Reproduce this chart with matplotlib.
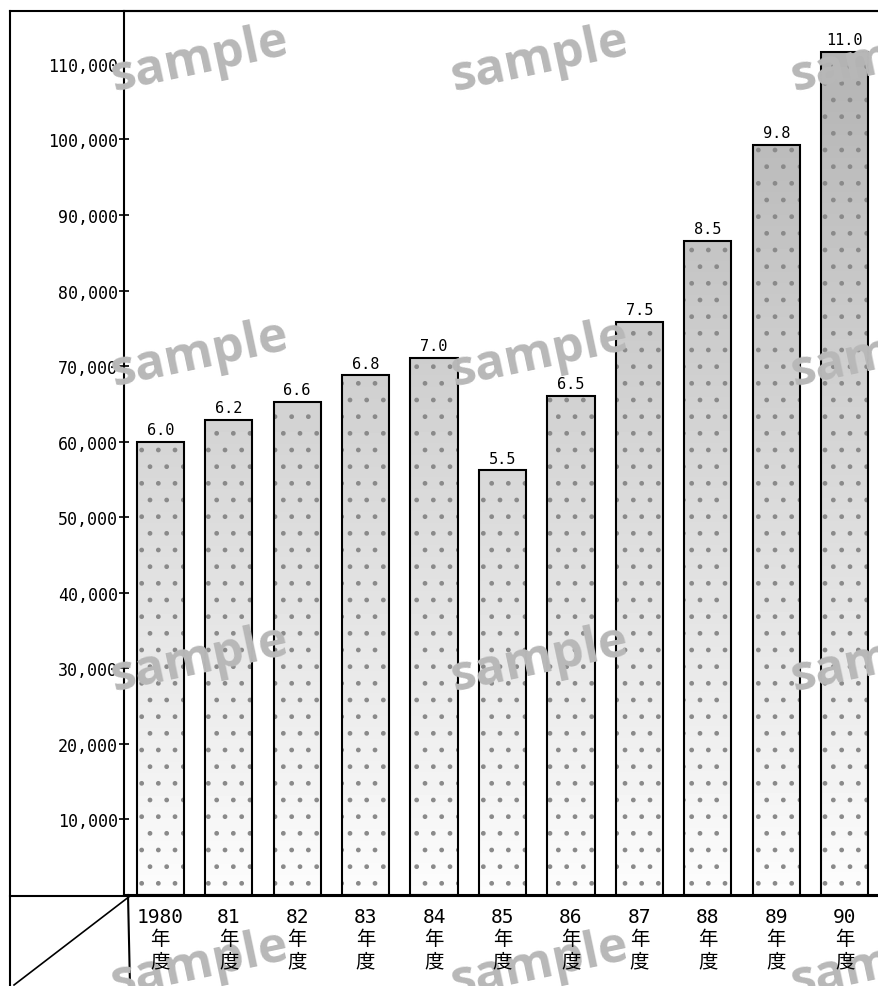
import matplotlib
matplotlib.use("Agg")
import matplotlib.pyplot as plt
import numpy as np
from matplotlib.lines import Line2D

W, H = 879, 987

years = ["1980", "81", "82", "83", "84", "85", "86", "87", "88", "89", "90"]
values = [60000, 62900, 65300, 68800, 71100, 56200, 66100, 75900, 86600, 99300, 111600]
bar_labels = ["6.0", "6.2", "6.6", "6.8", "7.0", "5.5", "6.5", "7.5", "8.5", "9.8", "11.0"]
yticks = [10000, 20000, 30000, 40000, 50000, 60000, 70000, 80000, 90000, 100000, 110000]

num_font = ["DejaVu Sans Mono", "Noto Sans CJK JP"]

fig = plt.figure(figsize=(W / 100, H / 100), dpi=100)
fig.patch.set_facecolor("white")

# main plot area (pixel layout of the scan)
ax_left, ax_right, ax_top, ax_bottom = 124, 879, 12, 896
ax = fig.add_axes([ax_left / W, 1 - ax_bottom / H, (ax_right - ax_left) / W, (ax_bottom - ax_top) / H])

bar_w = 0.69
x = np.arange(len(values))
ymax = 117000

# stippled look: vertical grey gradient clipped to each bar
for xi, v in zip(x, values):
    bar = ax.bar(xi, v, width=bar_w, facecolor="none", edgecolor="black", linewidth=1.5, zorder=3)[0]
    tone = np.linspace(0.99, 0.99 - 0.3 * v / ymax, 64).reshape(-1, 1)
    im = ax.imshow(tone, cmap="gray", vmin=0, vmax=1, origin="lower", aspect="auto",
                   extent=(xi - bar_w / 2, xi + bar_w / 2, 0, v), zorder=2, interpolation="bilinear")
    im.set_clip_path(bar)
    ax.bar(xi, v, width=bar_w, facecolor="none", edgecolor="#8a8a8a", linewidth=0, hatch=".", zorder=2.5)
    ax.text(xi, v + 600, bar_labels[xi], ha="center", va="bottom", fontsize=11, family=num_font, zorder=4)

ax.set_xlim(-0.53, 10.5)
ax.set_ylim(0, ymax)
ax.set_xticks([])
ax.set_yticks(yticks)
ax.set_yticklabels([f"{t:,}" for t in yticks], family=num_font, fontsize=12)
ax.tick_params(axis="y", direction="inout", length=7, width=1.2, pad=1)
ax.spines["right"].set_visible(False)
for side in ["left", "top", "bottom"]:
    ax.spines[side].set_linewidth(1.5)

# outer frame and bottom table lines, in pixel positions
def pline(xs, ys, lw=1.5):
    fig.add_artist(Line2D([p / W for p in xs], [1 - p / H for p in ys], color="black", linewidth=lw))

pline([10, 879], [12, 12])
pline([10, 10], [12, 987])
pline([10, 879], [897, 897])
pline([128, 130], [896, 987])
pline([14, 130], [986, 897], lw=1.2)

# watermark
for wy in [60, 355, 660, 965]:
    for wx in [200, 540, 880]:
        fig.text(wx / W, 1 - wy / H, "sample", color="#b8b8b8", fontsize=36, fontweight="bold",
                 family=["Open Sans", "DejaVu Sans"], rotation=12, ha="center", va="center", zorder=5)

# year labels in the table row
for xi, yr in zip(x, years):
    px = ax_left + (xi + 0.53) / (10.5 + 0.53) * (ax_right - ax_left)
    fig.text(px / W, 1 - 908 / H, f"{yr}\n年\n度", ha="center", va="top", fontsize=14,
             family=num_font, linespacing=1.2, multialignment="center", zorder=6)

fig.savefig("out.png", dpi=100)
